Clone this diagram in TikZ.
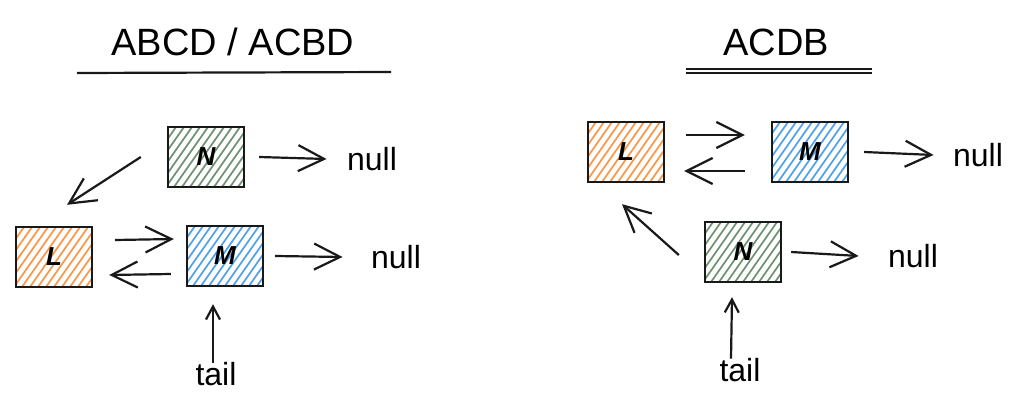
\documentclass[tikz,border=0pt]{standalone}
\usepackage{fontspec}
\setmainfont{Liberation Sans}
\usetikzlibrary{arrows.meta}
\definecolor{hatchorange}{RGB}{250,150,70}
\definecolor{hatchblue}{RGB}{80,160,235}
\definecolor{hatchgreen}{RGB}{110,145,110}

\begin{document}
\begin{tikzpicture}[x=1pt,y=-1pt,
  cell/.style={draw=black!90, line width=2.4, minimum width=76, minimum height=60,
    font=\bfseries\itshape\fontsize{26}{26}\selectfont,
    path picture={\foreach \k in {-50,-42,...,85}
      \draw[#1, line width=1.7] ([xshift=\k pt]path picture bounding box.south west) -- ++(-55:110);}},
  ptr/.style={draw=black!90, line width=2.2, -{Straight Barb[length=26pt,width=26pt]}},
  tip/.style={draw=black!90, line width=2.2, -{Straight Barb[length=13pt,width=14pt]}},
  word/.style={font=\fontsize{32}{32}\selectfont},
  heading/.style={font=\fontsize{38}{38}\selectfont}]
  \useasboundingbox (0,0) rectangle (1024,417);

  % left: ABCD / ACBD
  \node[heading] (titleA) at (233,42) {ABCD / ACBD};
  \draw[black!90, line width=2.2] (77,73) -- (391,72);
  \node[cell=hatchgreen] (nA) at (206,157) {N};
  \node[cell=hatchorange] (lA) at (54,257) {L};
  \node[cell=hatchblue] (mA) at (225,256) {M};
  \node[word] (nullNA) at (372,159) {null};
  \node[word] (nullMA) at (396,257) {null};
  \node[word] (tailA) at (216,374) {tail};
  \draw[ptr] ([xshift=14pt]nA.east) -- ([xshift=-17pt]nullNA.west);
  \draw[ptr] ([xshift=-26pt]nA.west) -- ([xshift=13pt,yshift=21pt]lA.north);
  \draw[ptr] ([xshift=22pt,yshift=17pt]lA.east) -- ([xshift=-12pt,yshift=17pt]mA.west);
  \draw[ptr] ([xshift=-15pt,yshift=-18pt]mA.west) -- ([xshift=16pt,yshift=-18pt]lA.east);
  \draw[ptr] ([xshift=11pt]mA.east) -- ([xshift=-25pt]nullMA.west);
  \draw[tip] ([xshift=-3pt,yshift=-4pt]tailA.north) -- ([xshift=-12pt,yshift=-17pt]mA.south);

  % right: ACDB
  \node[heading] (titleB) at (776,42) {ACDB};
  \draw[black!90, line width=1.8] (686,69) -- (872,69);
  \draw[black!90, line width=1.8] (686,73) -- (872,73);
  \node[cell=hatchorange] (lB) at (626,152) {L};
  \node[cell=hatchblue] (mB) at (810,152) {M};
  \node[cell=hatchgreen] (nB) at (743,252) {N};
  \node[word] (nullMB) at (978,155) {null};
  \node[word] (nullNB) at (913,256) {null};
  \node[word] (tailB) at (740,370) {tail};
  \draw[ptr] ([xshift=21pt,yshift=17pt]lB.east) -- ([xshift=-26pt,yshift=17pt]mB.west);
  \draw[ptr] ([xshift=-26pt,yshift=-19pt]mB.west) -- ([xshift=19pt,yshift=-19pt]lB.east);
  \draw[ptr] ([xshift=15pt]mB.east) -- ([xshift=-16pt]nullMB.west);
  \draw[ptr] ([xshift=-25pt,yshift=-3pt]nB.west) -- ([xshift=-4pt,yshift=-21pt]lB.south);
  \draw[ptr] ([xshift=9pt]nB.east) -- ([xshift=-26pt]nullNB.west);
  \draw[tip] ([xshift=-9pt,yshift=-4pt]tailB.north) -- ([xshift=-11pt,yshift=-14pt]nB.south);
\end{tikzpicture}
\end{document}
